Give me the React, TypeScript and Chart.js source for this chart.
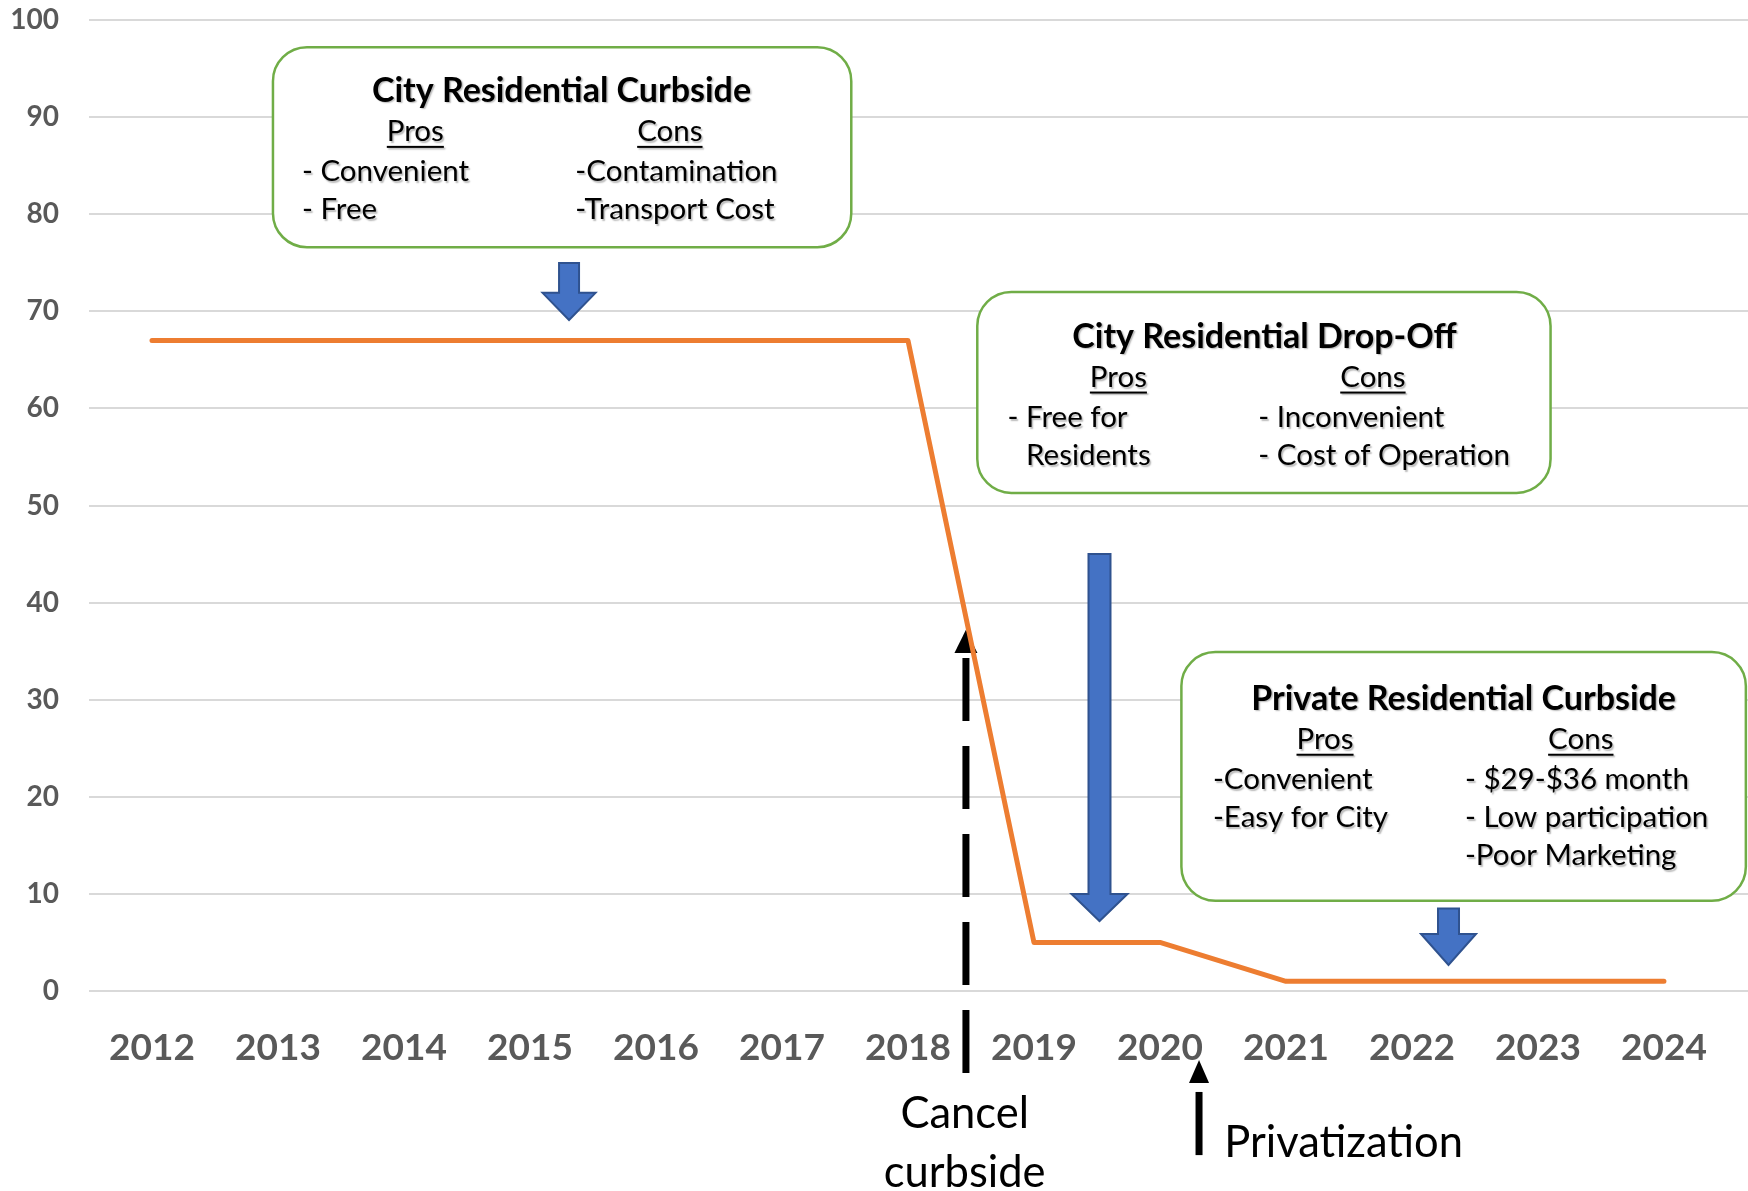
import React, { useEffect, useRef } from "react";
import { Chart, registerables } from "chart.js";

Chart.register(...registerables);

// ---------- data ----------
const years = [2012, 2013, 2014, 2015, 2016, 2017, 2018, 2019, 2020, 2021, 2022, 2023, 2024];
const recyclingValues = [67, 67, 67, 67, 67, 67, 67, 5, 5, 1, 1, 1, 1];
const yMin = 0;
const yMax = 100;
const yStep = 10;

// ---------- annotations (data coordinates) ----------
const boxTitles = ["City Residential Curbside", "City Residential Drop-Off", "Private Residential Curbside"];
const boxPros = [
  ["- Convenient", "- Free"],
  ["- Free for", "  Residents"],
  ["-Convenient", "-Easy for City"],
];
const boxCons = [
  ["-Contamination", "-Transport Cost"],
  ["- Inconvenient", "- Cost of Operation"],
  ["- $29-$36 month", "- Low participation", "-Poor Marketing"],
];
// [x0, x1, yTop, yBottom, titleX, titleY, prosCenterX, consCenterX, prosStartX, consStartX]
const boxGeometry = [
  [2012.96, 2017.55, 97.2, 76.6, 2015.25, 92.7, 2014.09, 2016.11, 2013.19, 2015.36],
  [2018.55, 2023.1, 72.0, 51.3, 2020.83, 67.4, 2019.67, 2021.69, 2018.79, 2020.78],
  [2020.17, 2024.65, 34.9, 9.29, 2022.41, 30.1, 2021.31, 2023.34, 2020.42, 2022.42],
];
// [centerX, top, headStart, tip, shaftWidthPx, headWidthPx]
const blockArrows = [
  [2015.31, 74.97, 71.9, 69.1, 20, 53],
  [2019.52, 45.0, 10.0, 7.2, 22, 56],
  [2022.29, 8.49, 5.87, 2.68, 21, 55],
];
// event markers: [x, bottom, headBase, tip]
const cancelMarker = [2018.46, -8.45, 34.8, 37.2];
const privatizationMarker = [2020.31, -16.9, -9.47, -7.1];
const cancelLabel = ["Cancel", "curbside"];
const cancelLabelPos = [2018.45, -12.7, -18.7];
const privatizationLabel = "Privatization";
const privatizationLabelPos = [2020.51, -15.7];

const FONT = "Lato, 'Open Sans', sans-serif";

const annotationPlugin = {
  id: "annotations",
  beforeDatasetsDraw(chart: any) {
    const { ctx } = chart;
    const xs = chart.scales.x;
    const ys = chart.scales.y;
    const X = (v: number) => xs.getPixelForValue(v);
    const Y = (v: number) => ys.getPixelForValue(v);
    ctx.save();

    const shadowOn = () => {
      ctx.shadowColor = "rgba(0,0,0,0.28)";
      ctx.shadowOffsetX = 1.5;
      ctx.shadowOffsetY = 1.5;
      ctx.shadowBlur = 1.5;
    };
    const shadowOff = () => {
      ctx.shadowColor = "rgba(0,0,0,0)";
      ctx.shadowOffsetX = 0;
      ctx.shadowOffsetY = 0;
      ctx.shadowBlur = 0;
    };

    // boxes
    boxGeometry.forEach((g, i) => {
      const [x0, x1, yt, yb, tx, ty, pcx, ccx, psx, csx] = g;
      const l = X(x0), r = X(x1), t = Y(yt), b = Y(yb);
      ctx.beginPath();
      ctx.roundRect(l, t, r - l, b - t, 34);
      ctx.fillStyle = "#ffffff";
      ctx.fill();
      ctx.lineWidth = 2.5;
      ctx.strokeStyle = "#70AD47";
      ctx.stroke();

      const tyPx = Y(ty);
      ctx.fillStyle = "#000000";
      ctx.textBaseline = "middle";
      shadowOn();
      ctx.font = `bold 34px ${FONT}`;
      ctx.textAlign = "center";
      ctx.fillText(boxTitles[i], X(tx), tyPx);

      ctx.font = `29.5px ${FONT}`;
      const hy = tyPx + 41;
      [["Pros", pcx], ["Cons", ccx]].forEach(([label, cx]: any) => {
        ctx.textAlign = "center";
        ctx.fillText(label, X(cx), hy);
        const w = ctx.measureText(label).width;
        ctx.fillRect(X(cx) - w / 2, hy + 14, w, 2);
      });

      ctx.textAlign = "left";
      const dashW = ctx.measureText("- ").width;
      boxPros[i].forEach((line, k) => {
        const yy = tyPx + 81 + 38 * k;
        if (line.startsWith("  ")) ctx.fillText(line.trim(), X(psx) + dashW, yy);
        else ctx.fillText(line, X(psx), yy);
      });
      boxCons[i].forEach((line, k) => {
        ctx.fillText(line, X(csx), tyPx + 81 + 38 * k);
      });
      shadowOff();
    });

    // blue block arrows
    blockArrows.forEach(([cx, top, hs, tip, sw, hw]) => {
      const c = X(cx), t = Y(top), h = Y(hs), p = Y(tip);
      ctx.beginPath();
      ctx.moveTo(c - sw / 2, t);
      ctx.lineTo(c + sw / 2, t);
      ctx.lineTo(c + sw / 2, h);
      ctx.lineTo(c + hw / 2, h);
      ctx.lineTo(c, p);
      ctx.lineTo(c - hw / 2, h);
      ctx.lineTo(c - sw / 2, h);
      ctx.closePath();
      ctx.fillStyle = "#4472C4";
      ctx.fill();
      ctx.lineWidth = 2;
      ctx.strokeStyle = "#2F528F";
      ctx.lineJoin = "miter";
      ctx.stroke();
    });

    // cancel curbside dashed arrow
    {
      const [mx, bot, base, tip] = cancelMarker;
      const cx = X(mx);
      ctx.beginPath();
      ctx.setLineDash([63, 25]);
      ctx.lineCap = "butt";
      ctx.moveTo(cx, Y(bot));
      ctx.lineTo(cx, Y(base) + 5);
      ctx.lineWidth = 7;
      ctx.strokeStyle = "#000";
      ctx.stroke();
      ctx.setLineDash([]);
      ctx.beginPath();
      ctx.moveTo(cx - 11.5, Y(base));
      ctx.lineTo(cx + 11.5, Y(base));
      ctx.lineTo(cx, Y(tip));
      ctx.closePath();
      ctx.fillStyle = "#000";
      ctx.fill();
    }
    // privatization arrow
    {
      const [mx, bot, base, tip] = privatizationMarker;
      const cx = X(mx);
      ctx.beginPath();
      ctx.moveTo(cx, Y(bot));
      ctx.lineTo(cx, Y(base) + 9);
      ctx.lineWidth = 7;
      ctx.strokeStyle = "#000";
      ctx.stroke();
      ctx.beginPath();
      ctx.moveTo(cx - 10, Y(base));
      ctx.lineTo(cx + 10, Y(base));
      ctx.lineTo(cx, Y(tip));
      ctx.closePath();
      ctx.fillStyle = "#000";
      ctx.fill();
    }

    // labels
    ctx.fillStyle = "#000";
    ctx.font = `43.5px ${FONT}`;
    ctx.textBaseline = "middle";
    ctx.textAlign = "center";
    ctx.fillText(cancelLabel[0], X(cancelLabelPos[0]), Y(cancelLabelPos[1]));
    ctx.fillText(cancelLabel[1], X(cancelLabelPos[0]), Y(cancelLabelPos[2]));
    ctx.textAlign = "left";
    ctx.fillText(privatizationLabel, X(privatizationLabelPos[0]), Y(privatizationLabelPos[1]));

    ctx.restore();
  },
};

export default function App() {
  const ref = useRef<HTMLCanvasElement | null>(null);

  useEffect(() => {
    document.body.style.margin = "0";
    const canvas = ref.current;
    if (!canvas) return;
    const chart = new Chart(canvas, {
      type: "line",
      data: {
        datasets: [
          {
            label: "Recycling",
            data: years.map((yr, i) => ({ x: yr, y: recyclingValues[i] })),
            borderColor: "#ED7D31",
            backgroundColor: "#ED7D31",
            borderWidth: 5,
            pointRadius: 0,
            tension: 0,
            borderCapStyle: "round",
            borderJoinStyle: "round",
          },
        ],
      },
      options: {
        animation: false,
        responsive: false,
        devicePixelRatio: 1,
        layout: { padding: { top: 20, left: 0, right: 0, bottom: 0 } },
        plugins: { legend: { display: false }, tooltip: { enabled: false } },
        scales: {
          x: {
            type: "linear",
            min: years[0] - 0.5,
            max: years[years.length - 1] + 0.667,
            afterBuildTicks: (s: any) => {
              s.ticks = years.map((v) => ({ value: v }));
            },
            afterFit: (s: any) => {
              s.height = 200;
              s.paddingLeft = 0;
              s.paddingRight = 0;
            },
            grid: { display: false },
            border: { display: false },
            ticks: {
              autoSkip: false,
              maxRotation: 0,
              padding: 27,
              color: "#595959",
              font: { family: FONT, size: 37, weight: "bold" },
              callback: (v: any) => String(v),
            },
          },
          y: {
            type: "linear",
            min: yMin,
            max: yMax,
            afterFit: (s: any) => {
              s.width = 89;
              s.paddingTop = 16;
              s.paddingBottom = 16;
            },
            grid: { color: "#D9D9D9", lineWidth: 2, drawTicks: false },
            border: { display: false },
            ticks: {
              stepSize: yStep,
              padding: 30,
              color: "#595959",
              font: { family: FONT, size: 28, weight: "bold" },
            },
          },
        },
      },
      plugins: [annotationPlugin],
    } as any);
    return () => chart.destroy();
  }, []);

  return (
    <div style={{ width: 1748, height: 1191 }}>
      <canvas ref={ref} width={1748} height={1191} />
    </div>
  );
}
